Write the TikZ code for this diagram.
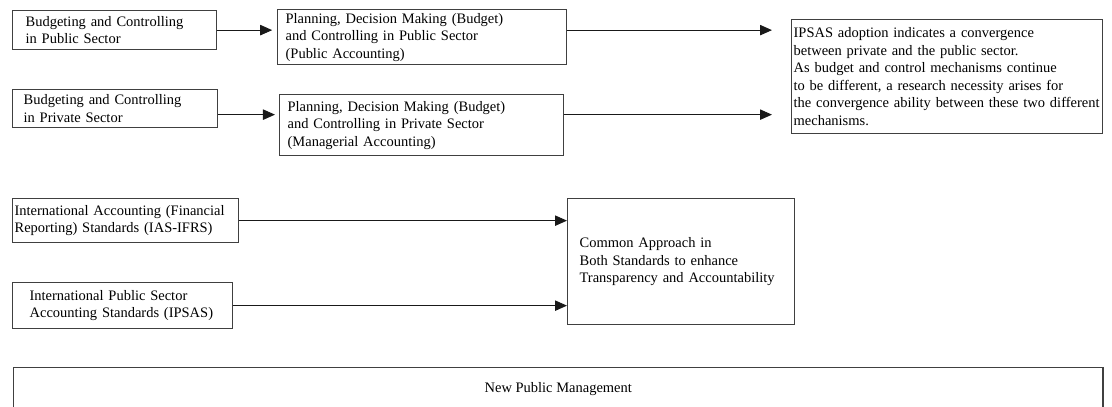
\documentclass[tikz,border=0pt]{standalone}
\usepackage{fontspec}
\setmainfont{Liberation Serif}
\usepackage{xcolor}
\usepackage{tikz}
\usetikzlibrary{positioning, calc, arrows.meta}
\definecolor{BoxLine}{rgb}{0.25,0.25,0.25}
\definecolor{ArrowLine}{rgb}{0.1,0.1,0.1}
\newcommand{\boxfont}{\fontsize{10.3}{12.5}\selectfont\hyphenpenalty=10000}
\tikzset{
    box/.style={
        rectangle,
        anchor=north west,
        align=left,
        inner ysep=0pt,
        draw=BoxLine,
        line width=0.9pt,
        font=\boxfont
    },
    flow/.style={-{Triangle[length=3mm, width=2.6mm]}, draw=ArrowLine, line width=0.7pt}
}
\begin{document}
\begin{tikzpicture}[x=0.025cm, y=-0.025cm]

\useasboundingbox (0,0) rectangle (1112,407);

% Budgeting
\node[box, minimum width=5.1cm, minimum height=0.975cm, inner xsep=0.325cm, text width=4.45cm] (n_pubbud) at (12,10)
    {Budgeting and Controlling\\in Public Sector};
\node[box, minimum width=5.125cm, minimum height=0.95cm, inner xsep=0.275cm, text width=4.575cm] (n_privbud) at (12,89)
    {Budgeting and Controlling\\in Private Sector};

% Planning
\node[box, minimum width=7.225cm, minimum height=1.375cm, inner xsep=0.2cm, text width=6.825cm] (n_pubplan) at (277,9)
    {Planning, Decision Making (Budget)\\and Controlling in Public Sector\\(Public Accounting)};
\node[box, minimum width=7.1cm, minimum height=1.525cm, inner xsep=0.2cm, text width=6.7cm] (n_privplan) at (279,94)
    {Planning, Decision Making (Budget)\\and Controlling in Private Sector\\(Managerial Accounting)};

% IPSAS adoption
\node[box, minimum width=7.775cm, minimum height=2.85cm, inner xsep=0.05cm, text width=7.675cm] (n_ipsas) at (791,19)
    {IPSAS adoption indicates a convergence\\between private and the public sector.\\As budget and control mechanisms continue\\to be different, a research necessity arises for\\the convergence ability between these two different\\mechanisms.};

% Standards
\node[box, minimum width=5.65cm, minimum height=1.1cm, inner xsep=0.05cm, text width=5.55cm] (n_ifrs) at (12,198)
    {International Accounting (Financial\\Reporting) Standards (IAS-IFRS)};
\node[box, minimum width=5.5cm, minimum height=1.15cm, inner xsep=0.425cm, text width=4.65cm] (n_ipsasstd) at (12,282)
    {International Public Sector\\Accounting Standards (IPSAS)};
\node[box, minimum width=5.675cm, minimum height=3.15cm, inner xsep=0.3cm, text width=5.075cm] (n_common) at (567,198)
    {Common Approach in\\Both Standards to enhance\\Transparency and Accountability\\[0.35cm]};

% NPM
\node[box, align=center, minimum width=27.225cm, minimum height=1.05cm] (n_npm) at (13,367)
    {New Public Management};

% Arrows
\coordinate (c_priv) at ($(n_privbud.east)+(0,6)$);
\draw[flow, shorten >=0.12cm] (n_pubbud) -- (n_pubbud -| n_pubplan.west);
\draw[flow, shorten >=0.1cm] (c_priv) -- (c_priv -| n_privplan.west);
\draw[flow, shorten >=0.475cm] (n_pubbud -| n_pubplan.east) -- (n_pubbud -| n_ipsas.west);
\draw[flow, shorten >=0.475cm] (c_priv -| n_privplan.east) -- (c_priv -| n_ipsas.west);
\draw[flow] (n_ifrs) -- (n_ifrs -| n_common.west);
\draw[flow] (n_ipsasstd) -- (n_ipsasstd -| n_common.west);

\end{tikzpicture}
\end{document}
